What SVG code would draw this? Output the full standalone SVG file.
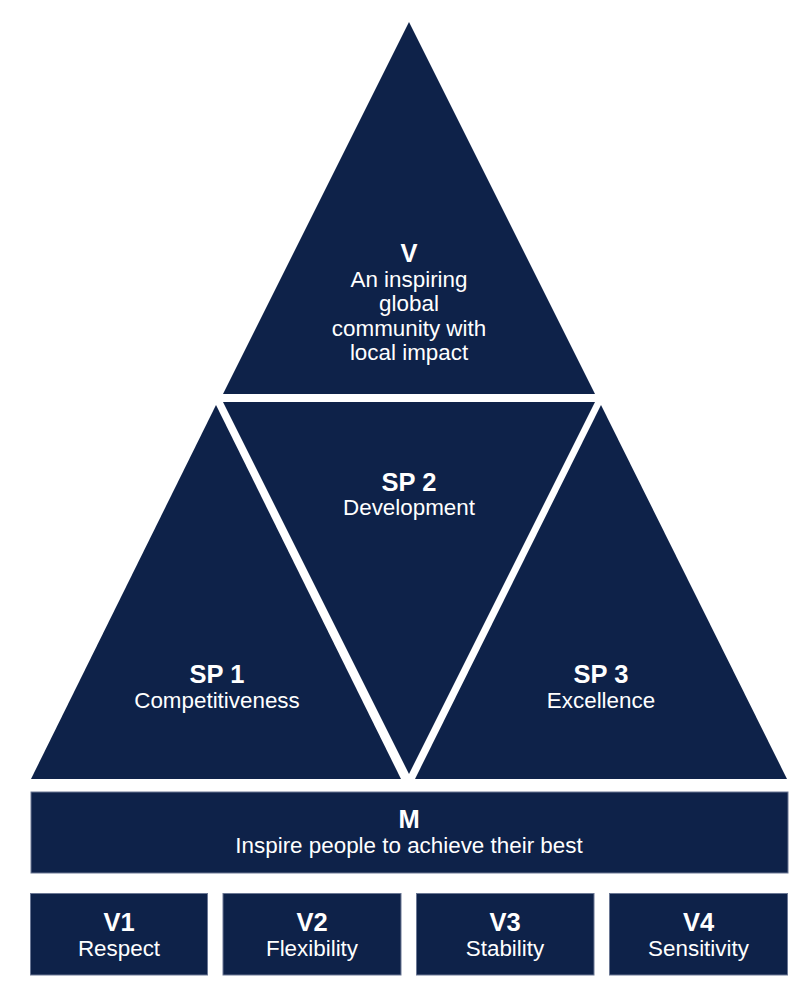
<svg xmlns="http://www.w3.org/2000/svg" width="810" height="1001" viewBox="0 0 810 1001">
<style>
.tri{fill:#0e2249;}
.box{fill:#0e2249;stroke:#6a7794;stroke-width:1;}
text{fill:#ffffff;font-family:"Liberation Sans",Arial,sans-serif;text-anchor:middle;}
.t{font-weight:bold;font-size:25.5px;}
.s{font-size:22.4px;}
</style>
<rect width="810" height="1001" fill="#ffffff"/>
<g id="vision">
<polygon class="tri" points="409,22 223,394 595,394"/>
<text class="t" x="409" y="262">V</text>
<text class="s" x="409" y="287">An inspiring</text>
<text class="s" x="409" y="311">global</text>
<text class="s" x="409" y="335.5">community with</text>
<text class="s" x="409" y="360">local impact</text>
</g>
<g id="sp2">
<polygon class="tri" points="223,402 595,402 409,774"/>
<text class="t" x="409" y="491">SP 2</text>
<text class="s" x="409" y="515">Development</text>
</g>
<g id="sp1">
<polygon class="tri" points="216,405 31,779 401,779"/>
<text class="t" x="217" y="683">SP 1</text>
<text class="s" x="217" y="708">Competitiveness</text>
</g>
<g id="sp3">
<polygon class="tri" points="601,405 415,779 787,779"/>
<text class="t" x="601" y="683">SP 3</text>
<text class="s" x="601" y="708">Excellence</text>
</g>
<g id="mission">
<rect class="box" x="31" y="792" width="757" height="81"/>
<text class="t" x="409" y="828">M</text>
<text class="s" x="409" y="853">Inspire people to achieve their best</text>
</g>
<g id="v1">
<rect class="box" x="30.5" y="893.5" width="177" height="81.5"/>
<text class="t" x="119" y="931">V1</text>
<text class="s" x="119" y="956">Respect</text>
</g>
<g id="v2">
<rect class="box" x="223" y="893.5" width="178" height="81.5"/>
<text class="t" x="312" y="931">V2</text>
<text class="s" x="312" y="956">Flexibility</text>
</g>
<g id="v3">
<rect class="box" x="416.5" y="893.5" width="177.5" height="81.5"/>
<text class="t" x="505" y="931">V3</text>
<text class="s" x="505" y="956">Stability</text>
</g>
<g id="v4">
<rect class="box" x="609.5" y="893.5" width="178" height="81.5"/>
<text class="t" x="698.5" y="931">V4</text>
<text class="s" x="698.5" y="956">Sensitivity</text>
</g>
<g id="connectors"></g>
</svg>
